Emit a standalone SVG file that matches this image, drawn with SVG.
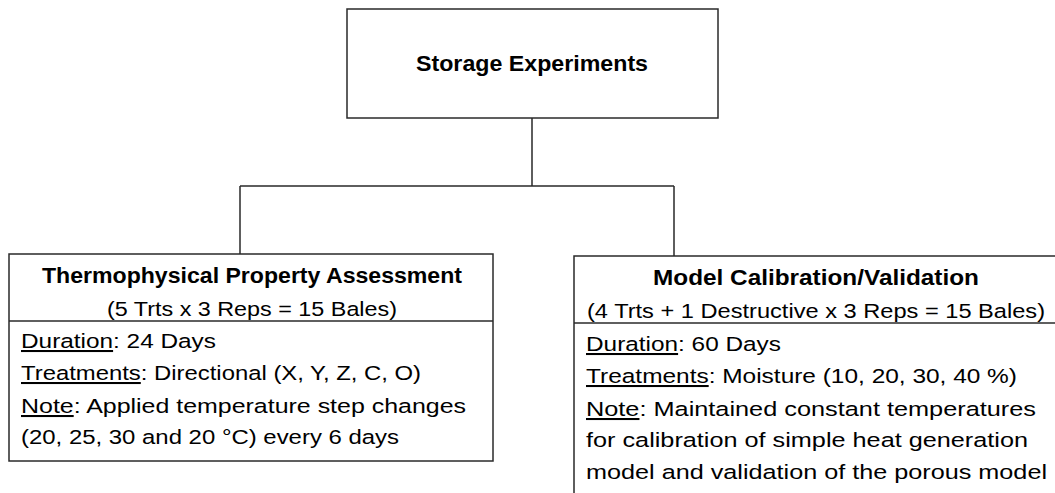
<svg xmlns="http://www.w3.org/2000/svg" width="1055" height="493" viewBox="0 0 1055 493">
<style>
.box{fill:#fff;stroke:#2a2a2a;stroke-width:1.5}
.div{stroke:#2a2a2a;stroke-width:1.5}
.con{fill:none;stroke:#2a2a2a;stroke-width:1.5}
text{font-family:"Liberation Sans",Arial,sans-serif;font-size:20.5px;fill:#000}
.b{font-weight:bold;font-size:22px}
.u{text-decoration:underline}
</style>
<rect width="1055" height="493" fill="#fff"/>
<g id="connectors">
<path class="con" d="M532,118 V186 M240,186 H674 M240,186 V254 M674,186 V256"/>
</g>
<g id="storage-experiments">
<rect class="box" x="347" y="9" width="371" height="109"/>
<text class="b" x="416" y="71" textLength="232" lengthAdjust="spacingAndGlyphs">Storage Experiments</text>
</g>
<g id="thermophysical">
<rect class="box" x="9" y="254" width="484" height="207"/>
<line class="div" x1="9" y1="321" x2="493" y2="321"/>
<text class="b" x="42" y="283" textLength="420" lengthAdjust="spacingAndGlyphs">Thermophysical Property Assessment</text>
<text x="107" y="316" textLength="290" lengthAdjust="spacingAndGlyphs">(5 Trts x 3 Reps = 15 Bales)</text>
<text x="21" y="348" textLength="195" lengthAdjust="spacingAndGlyphs"><tspan class="u">Duration</tspan>: 24 Days</text>
<text x="21" y="380" textLength="400" lengthAdjust="spacingAndGlyphs"><tspan class="u">Treatments</tspan>: Directional (X, Y, Z, C, O)</text>
<text x="21" y="413" textLength="445" lengthAdjust="spacingAndGlyphs"><tspan class="u">Note</tspan>: Applied temperature step changes</text>
<text x="21" y="444" textLength="378" lengthAdjust="spacingAndGlyphs">(20, 25, 30 and 20 °C) every 6 days</text>
</g>
<g id="model-calibration">
<rect class="box" x="574" y="256" width="484" height="250"/>
<line class="div" x1="574" y1="323" x2="1058" y2="323"/>
<text class="b" x="653" y="285" textLength="326" lengthAdjust="spacingAndGlyphs">Model Calibration/Validation</text>
<text x="587" y="318" textLength="458" lengthAdjust="spacingAndGlyphs">(4 Trts + 1 Destructive x 3 Reps = 15 Bales)</text>
<text x="586" y="351" textLength="195" lengthAdjust="spacingAndGlyphs"><tspan class="u">Duration</tspan>: 60 Days</text>
<text x="586" y="383" textLength="431" lengthAdjust="spacingAndGlyphs"><tspan class="u">Treatments</tspan>: Moisture (10, 20, 30, 40 %)</text>
<text x="586" y="416" textLength="450" lengthAdjust="spacingAndGlyphs"><tspan class="u">Note</tspan>: Maintained constant temperatures</text>
<text x="586" y="447" textLength="442" lengthAdjust="spacingAndGlyphs">for calibration of simple heat generation</text>
<text x="586" y="479" textLength="461" lengthAdjust="spacingAndGlyphs">model and validation of the porous model</text>
</g>
</svg>
